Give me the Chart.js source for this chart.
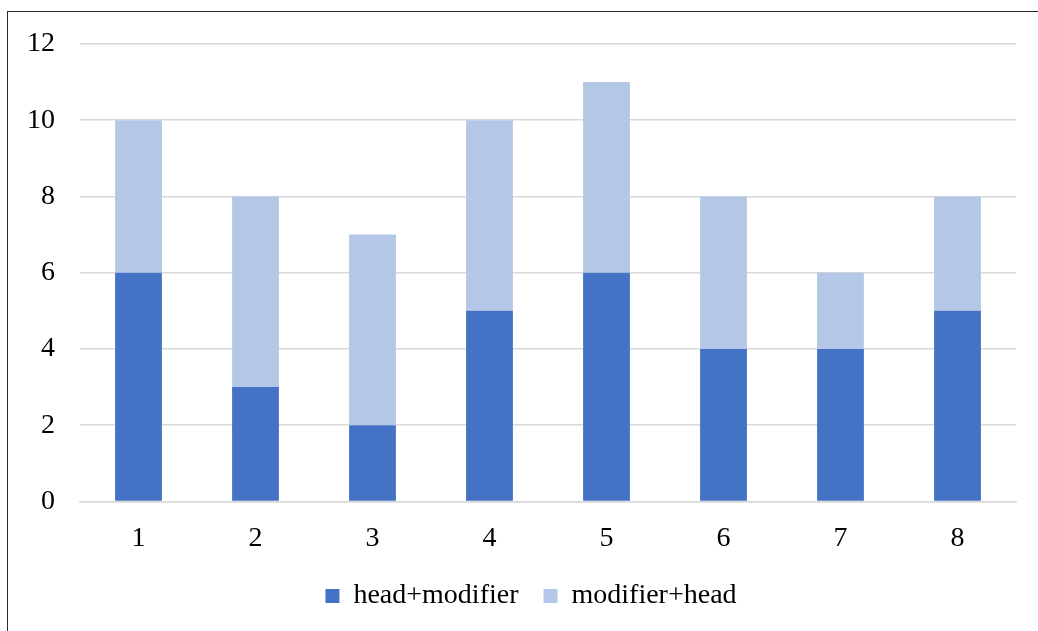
<!DOCTYPE html>
<html>
<head>
<meta charset="utf-8">
<script src="https://cdn.jsdelivr.net/npm/chart.js@4.4.1/dist/chart.umd.min.js"></script>
<style>
    html, body { margin: 0; padding: 0; background: #fff; }
    #wrap { position: relative; width: 1038px; height: 631px; overflow: hidden; }
    #frame {
        position: absolute; left: 7px; top: 11px; width: 1100px; height: 700px;
        border: 1.5px solid #2b2b2b; pointer-events: none;
    }
    canvas { position: absolute; left: 0; top: 0; }
</style>
</head>
<body>
<div id="wrap">
    <canvas id="chart" width="1038" height="631"></canvas>
    <div id="frame"></div>
</div>
<script>
const categories = ["1", "2", "3", "4", "5", "6", "7", "8"];
const headModifier = [6, 3, 2, 5, 6, 4, 4, 5];
const modifierHead = [4, 5, 5, 5, 5, 4, 2, 3];
const yTicks = [0, 2, 4, 6, 8, 10, 12];

const serif = "'Liberation Serif', 'Times New Roman', serif";

// nudge the legend so it sits where the original one does
const legendShift = {
    id: "legendShift",
    afterLayout(chart) {
        const lg = chart.legend;
        lg.left += 46;
        lg.top -= 18;
        lg.bottom -= 18;
    },
};

new Chart(document.getElementById("chart"), {
    type: "bar",
    data: {
        labels: categories,
        datasets: [
            {
                label: "head+modifier",
                data: headModifier,
                backgroundColor: "#4472C4",
                barPercentage: 0.4,
                categoryPercentage: 1,
            },
            {
                label: "modifier+head",
                data: modifierHead,
                backgroundColor: "#B4C7E7",
                barPercentage: 0.4,
                categoryPercentage: 1,
            },
        ],
    },
    plugins: [legendShift],
    options: {
        responsive: false,
        animation: false,
        layout: {padding: {top: 44, right: 22, left: 0, bottom: -7}},
        plugins: {
            tooltip: {enabled: false},
            legend: {
                position: "bottom",
                labels: {
                    boxWidth: 14,
                    boxHeight: 14,
                    padding: 25,
                    color: "#000",
                    font: {family: serif, size: 28},
                },
            },
        },
        scales: {
            x: {
                stacked: true,
                grid: {display: false, drawTicks: false},
                border: {color: "#d9d9d9", width: 1.5},
                ticks: {color: "#000", padding: 20, font: {family: serif, size: 28}},
            },
            y: {
                stacked: true,
                min: yTicks[0],
                max: yTicks[yTicks.length - 1],
                afterBuildTicks: s => { s.ticks = yTicks.map(v => ({value: v})); },
                afterFit: s => { s.width = 80; },
                grid: {color: "#d9d9d9", lineWidth: 1.5, drawTicks: false},
                border: {display: false},
                ticks: {color: "#000", padding: 25, font: {family: serif, size: 28}},
            },
        },
    },
});
</script>
</body>
</html>
